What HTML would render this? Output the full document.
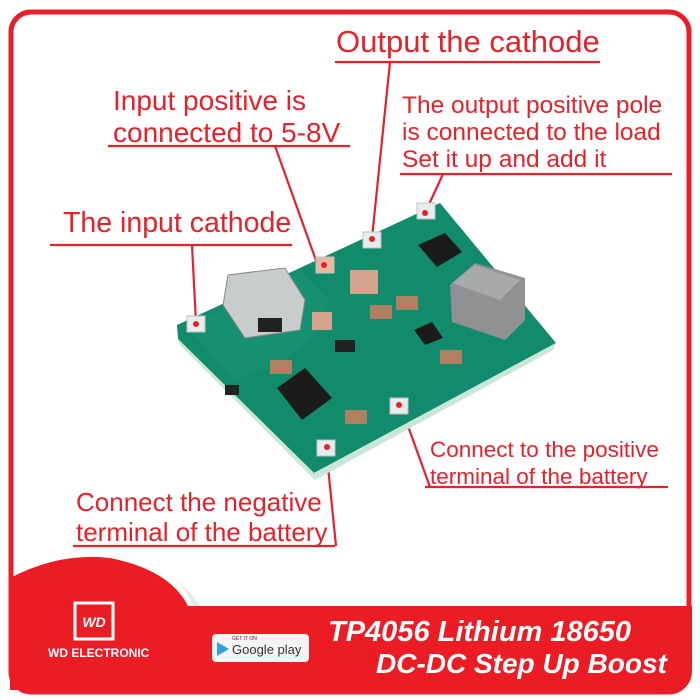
<!DOCTYPE html>
<html><head><meta charset="utf-8"><style>
html,body{margin:0;padding:0;background:#fff;}
body{width:700px;height:700px;overflow:hidden;position:relative;font-family:"Liberation Sans Narrow","Liberation Sans",sans-serif;}
.t{position:absolute;color:#e3222b;white-space:nowrap;line-height:1;}
</style></head><body>
<svg width="700" height="700" style="position:absolute;left:0;top:0">
  <rect x="11" y="12" width="678" height="680" rx="20" fill="none" stroke="#e81f2a" stroke-width="5"/>
  <path d="M10 606 L692 606 L692 670 Q692 690 672 690 L30 690 Q10 690 10 670 Z" fill="#ec1c24"/>
  <path d="M10 578 Q60 552 110 558 Q170 570 188 606 L188 690 L10 690 Z" fill="#ec1c24"/>
  <path d="M176 580 Q190 595 192 606 L200 606 Q190 590 176 580Z" fill="#ddd" opacity=".6"/>
  <g stroke="#e3222b" stroke-width="2.2" fill="none">
    <line x1="335" y1="62" x2="600" y2="62"/><line x1="390" y1="62" x2="372" y2="238"/>
    <line x1="108" y1="146" x2="350" y2="146"/><line x1="275" y1="146" x2="318" y2="266"/>
    <line x1="400" y1="174" x2="672" y2="174"/><line x1="443" y1="174" x2="425" y2="213"/>
    <line x1="50" y1="245" x2="292" y2="245"/><line x1="192" y1="245" x2="196" y2="323"/>
    <line x1="425" y1="487" x2="668" y2="487"/><line x1="400" y1="404" x2="430" y2="487"/>
    <line x1="73" y1="546" x2="335" y2="546"/><line x1="326" y1="447" x2="336" y2="546"/>
  </g>
  <polygon points="177,325 440,203 556,343 314,473 178,339" fill="#128a6c"/>
  <polygon points="178,339 314,473 556,343 553,350 315,480 180,345" fill="#c9e7d9"/>
  <polygon points="185,326 300,270 330,300 320,330 285,360 235,380" fill="#179475" opacity=".6"/>
  <g fill="#e9ecec" stroke="#b8c4c4">
    <rect x="187" y="316" width="18" height="16"/><rect x="316" y="257" width="18" height="16" fill="#e8b9a2"/>
    <rect x="363" y="232" width="18" height="16"/><rect x="417" y="203" width="18" height="16"/>
    <rect x="390" y="398" width="18" height="16"/><rect x="317" y="440" width="18" height="16"/>
  </g>
  <g fill="#e3222b"><circle cx="196" cy="324" r="3"/><circle cx="324" cy="265" r="3"/><circle cx="372" cy="239" r="3"/><circle cx="425" cy="213" r="3"/><circle cx="399" cy="405" r="3"/><circle cx="327" cy="447" r="3"/></g>
  <polygon points="228,275 285,268 305,300 300,330 245,338 223,305" fill="#c9cccd" stroke="#888"/>
  <rect x="258" y="318" width="24" height="14" fill="#222"/>
  <rect x="312" y="312" width="20" height="18" fill="#d6a48e"/>
  <rect x="350" y="270" width="28" height="24" fill="#d6a48e"/>
  <polygon points="450,285 475,263 525,278 525,320 505,340 452,322" fill="#8f9193"/>
  <polygon points="452,283 475,265 520,280 500,300" fill="#a7a9ab"/>
  <polygon points="418,245 445,233 462,252 437,267" fill="#1b1b1b"/>
  <polygon points="277,388 305,368 332,398 302,420" fill="#1b1b1b"/>
  <polygon points="414,330 432,322 443,338 425,345" fill="#1b1b1b"/>
  <rect x="396" y="296" width="22" height="14" fill="#b08060"/>
  <rect x="370" y="305" width="22" height="14" fill="#b08060"/>
  <rect x="270" y="360" width="22" height="14" fill="#b08060"/>
  <rect x="345" y="410" width="22" height="14" fill="#b08060"/>
  <rect x="440" y="350" width="22" height="14" fill="#b08060"/>
  <rect x="335" y="340" width="20" height="12" fill="#222"/>
  <rect x="225" y="385" width="14" height="10" fill="#222"/>
  <rect x="75" y="603" width="38" height="36" fill="none" stroke="#fff" stroke-width="3"/>
  <text x="94" y="627" fill="#fff" font-size="14" font-weight="bold" font-style="italic" text-anchor="middle" font-family="Liberation Sans">WD</text>
  <rect x="212" y="634" width="97" height="28" rx="4" fill="#f4f4f4"/>
  <polygon points="217,642 217,656 229,649" fill="#2fa0e0"/>
</svg>
<div class="t" style="left:336px;top:26px;font-size:31px;">Output the cathode</div>
<div class="t" style="left:113px;top:85px;font-size:28px;line-height:32px;">Input positive is<br>connected to 5-8V</div>
<div class="t" style="left:402px;top:92px;font-size:24.5px;line-height:27px;">The output positive pole<br>is connected to the load<br>Set it up and add it</div>
<div class="t" style="left:63px;top:209px;font-size:28.5px;">The input cathode</div>
<div class="t" style="left:430px;top:436px;font-size:22.5px;line-height:27px;">Connect to the positive<br>terminal of the battery</div>
<div class="t" style="left:76px;top:487px;font-size:26px;line-height:30px;">Connect the negative<br>terminal of the battery</div>
<div class="t" style="left:48px;top:647px;font-size:12px;color:#fff;font-weight:bold;font-family:'Liberation Sans',sans-serif;">WD ELECTRONIC</div>
<div class="t" style="left:232px;top:637px;font-size:5px;color:#333;font-family:'Liberation Sans',sans-serif;">GET IT ON</div>
<div class="t" style="left:232px;top:643px;font-size:13px;color:#333;font-family:'Liberation Sans',sans-serif;">Google play</div>
<div class="t" style="left:328px;top:618px;font-size:29px;color:#fff;font-weight:bold;font-style:italic;">TP4056 Lithium 18650</div>
<div class="t" style="left:376px;top:650px;font-size:28px;color:#fff;font-weight:bold;font-style:italic;">DC-DC Step Up Boost</div>
</body></html>
